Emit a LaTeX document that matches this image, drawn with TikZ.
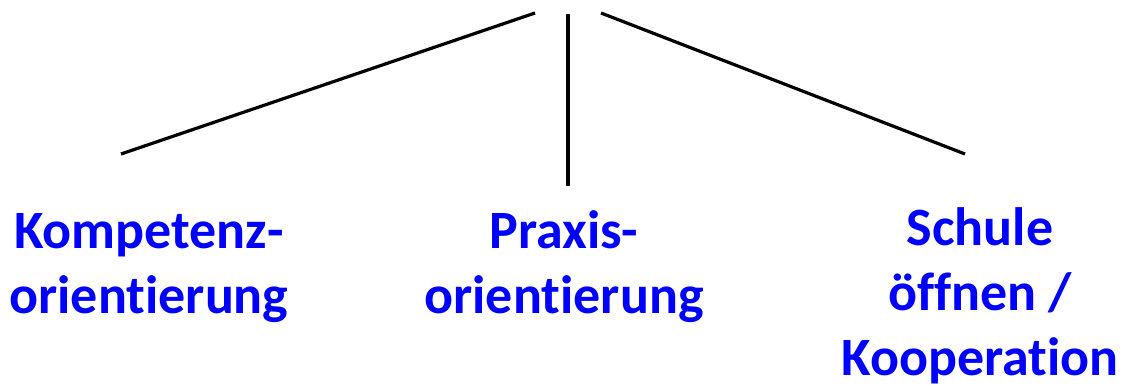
\documentclass[tikz,border=0pt]{standalone}
\usepackage{fontspec}
\setmainfont{Carlito}[Ligatures=CommonOff]
\usepackage{tikz}
\usetikzlibrary{positioning}
\definecolor{topic}{RGB}{0,0,255}
\tikzset{
  topicbox/.style={text=topic,font=\fontsize{54}{65}\selectfont\bfseries,
    align=center,inner sep=0pt,anchor=base},
  branch/.style={line width=3.2pt},
}

\begin{document}
\begin{tikzpicture}[x=1pt,y=-1pt]
  \useasboundingbox (0,0) rectangle (1123,388);
  % three topics (base = last line)
  \node[topicbox] (komp) at (149,313) {Kompetenz-\\orientierung};
  \node[topicbox] (praxis) at (564,313) {Praxis-\\orientierung};
  \node[topicbox] (schule) at (980,375) {Schule\\öffnen /\\Kooperation};
  % line ends at the top and bottom
  \coordinate (topL) at (535,13);
  \coordinate (topM) at (568,14);
  \coordinate (topR) at (601,13);
  \coordinate (endL) at (121,154);
  \coordinate (endM) at (568,186);
  \coordinate (endR) at (965,154);
  \draw[branch] (topL) -- (endL);
  \draw[branch] (topM) -- (endM);
  \draw[branch] (topR) -- (endR);
\end{tikzpicture}
\end{document}
